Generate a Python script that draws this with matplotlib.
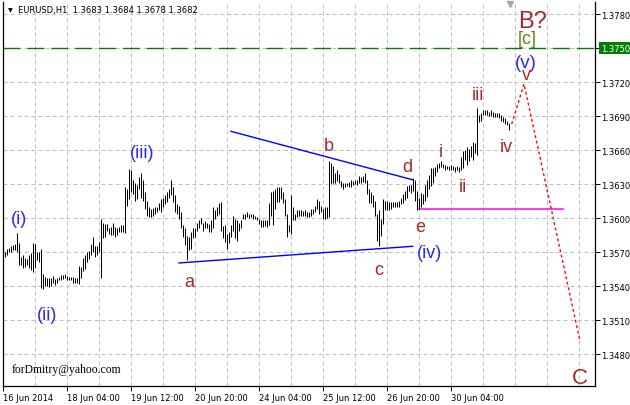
import matplotlib
matplotlib.use("Agg")
import matplotlib.pyplot as plt
import matplotlib.transforms as mtrans

# ---------------- data (EURUSD H1) ----------------
highs = [
    1.3570, 1.3573, 1.3574, 1.3575, 1.3576, 1.3577, 1.3587, 1.3578, 1.3566, 1.3567,
    1.3565, 1.3564, 1.3567, 1.3569, 1.3578, 1.3577, 1.3570, 1.3570, 1.3573, 1.3551,
    1.3548, 1.3547, 1.3547, 1.3547, 1.3549, 1.3546, 1.3547, 1.3548, 1.3550, 1.3550,
    1.3551, 1.3549, 1.3548, 1.3548, 1.3548, 1.3547, 1.3547, 1.3558, 1.3557, 1.3565,
    1.3567, 1.3570, 1.3571, 1.3577, 1.3583, 1.3575, 1.3575, 1.3579, 1.3599, 1.3596,
    1.3595, 1.3595, 1.3591, 1.3592, 1.3596, 1.3592, 1.3591, 1.3592, 1.3594, 1.3594,
    1.3627, 1.3626, 1.3643, 1.3642, 1.3634,
    1.3631, 1.3629, 1.3636, 1.3640, 1.3634, 1.3623, 1.3615, 1.3610, 1.3608, 1.3609,
    1.3610, 1.3610, 1.3613, 1.3617, 1.3618, 1.3620, 1.3623, 1.3626, 1.3634, 1.3627,
    1.3620, 1.3612, 1.3611, 1.3605, 1.3594, 1.3591, 1.3584, 1.3583, 1.3588, 1.3591,
    1.3591, 1.3596, 1.3598, 1.3600, 1.3596, 1.3597, 1.3596, 1.3595, 1.3598, 1.3610,
    1.3607, 1.3610, 1.3613, 1.3614, 1.3593, 1.3594, 1.3586, 1.3588, 1.3594, 1.3602,
    1.3599, 1.3598, 1.3596, 1.3598, 1.3604, 1.3604, 1.3605, 1.3604, 1.3604, 1.3604,
    1.3602, 1.3601, 1.3599, 1.3598, 1.3598,
    1.3598, 1.3598, 1.3613, 1.3623, 1.3624, 1.3626, 1.3627, 1.3627, 1.3627, 1.3623,
    1.3617, 1.3604, 1.3594, 1.3620, 1.3610, 1.3604, 1.3607, 1.3607, 1.3607, 1.3606,
    1.3607, 1.3605, 1.3605, 1.3608, 1.3608, 1.3611, 1.3617, 1.3615, 1.3611, 1.3608,
    1.3610, 1.3610, 1.3650, 1.3649, 1.3646, 1.3640, 1.3642, 1.3639, 1.3633, 1.3631,
    1.3631, 1.3631, 1.3632, 1.3634, 1.3633, 1.3634, 1.3634, 1.3637, 1.3636, 1.3637,
    1.3640, 1.3634, 1.3626, 1.3623, 1.3620, 1.3615, 1.3604, 1.3607, 1.3599, 1.3617,
    1.3615, 1.3615, 1.3614, 1.3614, 1.3614,
    1.3614, 1.3614, 1.3615, 1.3618, 1.3621, 1.3624, 1.3628, 1.3629, 1.3629, 1.3635,
    1.3634, 1.3624, 1.3618, 1.3622, 1.3621, 1.3629, 1.3634, 1.3638, 1.3644, 1.3644,
    1.3645, 1.3648, 1.3649, 1.3650, 1.3648, 1.3647, 1.3646, 1.3646, 1.3647, 1.3646,
    1.3645, 1.3646, 1.3645, 1.3654, 1.3659, 1.3660, 1.3663, 1.3661, 1.3664, 1.3667,
    1.3666, 1.3697, 1.3691, 1.3693, 1.3695, 1.3695, 1.3695, 1.3694, 1.3695, 1.3694,
    1.3693, 1.3693, 1.3693, 1.3691, 1.3689, 1.3688, 1.3686, 1.3684,
]
lows = [
    1.3566, 1.3567, 1.3570, 1.3570, 1.3572, 1.3572, 1.3570, 1.3559, 1.3559, 1.3556,
    1.3557, 1.3559, 1.3556, 1.3554, 1.3552, 1.3556, 1.3563, 1.3561, 1.3538, 1.3537,
    1.3540, 1.3540, 1.3539, 1.3540, 1.3543, 1.3541, 1.3543, 1.3545, 1.3545, 1.3546,
    1.3547, 1.3545, 1.3545, 1.3545, 1.3543, 1.3543, 1.3543, 1.3542, 1.3547, 1.3553,
    1.3555, 1.3561, 1.3564, 1.3567, 1.3570, 1.3566, 1.3567, 1.3570, 1.3547, 1.3582,
    1.3583, 1.3589, 1.3586, 1.3585, 1.3585, 1.3583, 1.3585, 1.3588, 1.3588, 1.3588,
    1.3587, 1.3611, 1.3617, 1.3623, 1.3621,
    1.3615, 1.3617, 1.3626, 1.3618, 1.3615, 1.3608, 1.3602, 1.3601, 1.3601, 1.3602,
    1.3604, 1.3605, 1.3607, 1.3605, 1.3610, 1.3612, 1.3614, 1.3618, 1.3620, 1.3614,
    1.3605, 1.3604, 1.3599, 1.3591, 1.3583, 1.3576, 1.3563, 1.3572, 1.3573, 1.3582,
    1.3583, 1.3589, 1.3591, 1.3595, 1.3589, 1.3591, 1.3591, 1.3588, 1.3588, 1.3591,
    1.3599, 1.3602, 1.3604, 1.3589, 1.3582, 1.3579, 1.3573, 1.3578, 1.3583, 1.3589,
    1.3582, 1.3580, 1.3589, 1.3591, 1.3599, 1.3599, 1.3601, 1.3600, 1.3601, 1.3599,
    1.3599, 1.3598, 1.3595, 1.3592, 1.3592,
    1.3593, 1.3592, 1.3594, 1.3602, 1.3594, 1.3608, 1.3614, 1.3614, 1.3617, 1.3613,
    1.3602, 1.3583, 1.3588, 1.3586, 1.3598, 1.3598, 1.3601, 1.3602, 1.3602, 1.3602,
    1.3602, 1.3601, 1.3601, 1.3602, 1.3604, 1.3605, 1.3608, 1.3604, 1.3605, 1.3599,
    1.3599, 1.3600, 1.3601, 1.3630, 1.3631, 1.3631, 1.3633, 1.3631, 1.3627, 1.3626,
    1.3627, 1.3628, 1.3627, 1.3627, 1.3629, 1.3630, 1.3629, 1.3631, 1.3631, 1.3632,
    1.3631, 1.3621, 1.3613, 1.3613, 1.3610, 1.3602, 1.3580, 1.3575, 1.3584, 1.3595,
    1.3607, 1.3607, 1.3607, 1.3608, 1.3610,
    1.3610, 1.3610, 1.3610, 1.3612, 1.3613, 1.3616, 1.3618, 1.3624, 1.3622, 1.3624,
    1.3615, 1.3607, 1.3608, 1.3610, 1.3612, 1.3615, 1.3619, 1.3626, 1.3628, 1.3631,
    1.3637, 1.3641, 1.3644, 1.3645, 1.3644, 1.3642, 1.3643, 1.3642, 1.3642, 1.3642,
    1.3641, 1.3642, 1.3641, 1.3642, 1.3644, 1.3651, 1.3647, 1.3650, 1.3654, 1.3651,
    1.3657, 1.3656, 1.3685, 1.3686, 1.3691, 1.3691, 1.3691, 1.3690, 1.3690, 1.3689,
    1.3689, 1.3689, 1.3688, 1.3686, 1.3685, 1.3683, 1.3682, 1.3678,
]

symbol = "EURUSD,H1"
last_ohlc = [1.3683, 1.3684, 1.3678, 1.3682]

price_ticks = [1.3480, 1.3510, 1.3540, 1.3570, 1.3600, 1.3630,
               1.3660, 1.3690, 1.3720, 1.3750, 1.3780]
time_labels = ["16 Jun 2014", "18 Jun 04:00", "19 Jun 12:00", "20 Jun 20:00",
               "24 Jun 04:00", "25 Jun 12:00", "26 Jun 20:00", "30 Jun 04:00"]
time_label_bars = [-1, 31, 63, 95, 127, 159, 191, 223]

target_level = 1.3750          # green dashed horizontal line
support_level = 1.3608         # magenta horizontal segment
support_span = [207, 278.85]
upper_trend_x = [112.85, 204.0]
upper_trend_y = [1.36765, 1.36336]
lower_trend_x = [86.85, 203.7]
lower_trend_y = [1.35604, 1.35751]
projection_x = [253.2, 259.35, 287.35]
projection_y = [1.3683, 1.37183, 1.34916]

BLUE = "#2a2af2"
BROWN = "#a52a2a"
GREEN = "#5b8a12"
wave_labels = [
    ("(i)", 7.1, 1.35957, BLUE, 13),
    ("(ii)", 20.85, 1.35114, BLUE, 13),
    ("(iii)", 68.6, 1.36539, BLUE, 13),
    ("(iv)", 212.35, 1.35657, BLUE, 13),
    ("(v)", 260.35, 1.37333, BLUE, 13.5),
    ("a", 92.1, 1.35401, BROWN, 13),
    ("b", 161.6, 1.36600, BROWN, 13),
    ("c", 186.85, 1.35507, BROWN, 13),
    ("d", 201.1, 1.36415, BROWN, 13),
    ("e", 207.35, 1.35889, BROWN, 13),
    ("i", 217.6, 1.36548, BROWN, 13),
    ("ii", 228.85, 1.36239, BROWN, 13),
    ("iii", 236.1, 1.37050, BROWN, 13),
    ("iv", 250.35, 1.36592, BROWN, 13),
    ("v", 260.6, 1.37227, BROWN, 13),
    ("[c]", 260.85, 1.37544, GREEN, 13),
    ("B?", 263.6, 1.37685, BROWN, 17),
    ("C", 287.1, 1.34545, BROWN, 16),
]

# ---------------- figure ----------------
W, H = 630, 406
fig = plt.figure(figsize=(W / 100, H / 100), dpi=100)
fig.patch.set_facecolor("white")
ax_left, ax_right, ax_top, ax_bottom = 3.3, 595.0, 3.0, 386.5
ax = fig.add_axes([ax_left / W, (H - ax_bottom) / H,
                   (ax_right - ax_left) / W, (ax_bottom - ax_top) / H])
ax.set_facecolor("white")
ax.set_xlim(-1, 294.85)
ax.set_ylim(1.34523, 1.37906)

# grid
grid_kw = dict(color="#c0c0c0", lw=0.72, dashes=(4, 3), zorder=0)
for p in price_ticks:
    ax.axhline(p, **grid_kw)
k = 1
while -1 + 16 * k < 294.85:
    ax.axvline(-1 + 16 * k, **grid_kw)
    k += 1

# bars
idx = list(range(len(highs)))
bars = ax.vlines(idx, lows, highs, colors="black", lw=0.72, zorder=3)
bars.set_snap(True)

# lines
ax.axhline(target_level, color="#008000", lw=1.0, dashes=(12.2, 5), zorder=2)
ax.plot(support_span, [support_level, support_level], color="#ff00ff", lw=1.1, zorder=2)
ax.plot(upper_trend_x, upper_trend_y, color="#0000ff", lw=1.0, zorder=2)
ax.plot(lower_trend_x, lower_trend_y, color="#0000ff", lw=1.0, zorder=2)
ax.plot(projection_x, projection_y, color="#ff0000", lw=1.0, dashes=(2, 2), zorder=2)

# wave labels
for txt, bx, py, col, fs in wave_labels:
    ax.text(bx, py, txt, color=col, fontsize=fs, ha="center", va="baseline",
            family="Liberation Sans", zorder=4)

# chart shift marker
trans_top = mtrans.blended_transform_factory(ax.transData, ax.transAxes)
ax.plot([len(highs) - 0.5], [1 - 2.0 / (ax_bottom - ax_top)], marker="v", ms=4.2,
        color="#a8a8a8", mec="#a8a8a8", transform=trans_top, clip_on=False, zorder=5)

# axes styling
for s in ["left", "right", "bottom"]:
    ax.spines[s].set_color("black")
    ax.spines[s].set_linewidth(0.9)
ax.spines["top"].set_visible(False)

ax.set_xticks(time_label_bars)
ax.set_xticklabels(time_labels)
ax.tick_params(axis="x", direction="out", length=3.6, width=0.72, pad=1.6,
               labelsize=6, colors="black")
for lbl in ax.get_xticklabels():
    lbl.set_horizontalalignment("left")
    lbl.set_family("DejaVu Sans")

ax.yaxis.tick_right()
ax.set_yticks(price_ticks)
ax.set_yticklabels(["" if abs(p - target_level) < 1e-9 else f"{p:.4f}" for p in price_ticks])
ax.tick_params(axis="y", direction="out", length=3.6, width=0.72, pad=0.6,
               labelsize=6, colors="black")

# price label of the target level
trans_right = mtrans.blended_transform_factory(fig.transFigure, ax.transData)
ax.text(600.8 / W, target_level, f"{target_level:.4f}", transform=trans_right,
        fontsize=6, color="white", ha="left", va="center", family="DejaVu Sans",
        bbox=dict(boxstyle="square,pad=0.18", facecolor="#008000", edgecolor="none"),
        clip_on=False, zorder=6)

# title
fig.text(18.3 / W, 1 - 10.7 / H,
         f"{symbol}  " + " ".join(f"{v:.4f}" for v in last_ohlc),
         fontsize=6, color="black", ha="left", va="center", family="DejaVu Sans")
fig.text(10.2 / W, 1 - 10.6 / H, "\u25bc", fontsize=4.5, color="black",
         ha="center", va="center", family="DejaVu Sans")

# e-mail
fig.text(11.7 / W, 1 - 370 / H, "forDmitry@yahoo.com", fontsize=8.4,
         color="black", ha="left", va="center", family="Liberation Serif")

fig.savefig("out.png", dpi=100)
